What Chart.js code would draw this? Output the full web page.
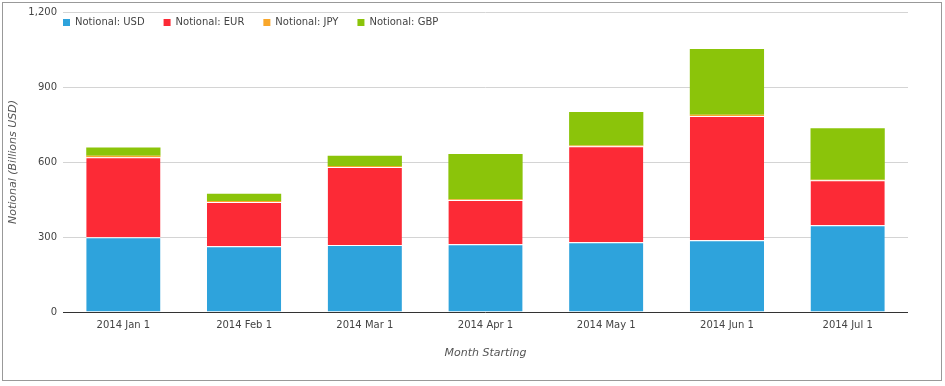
<!DOCTYPE html>
<html>
<head>
<meta charset="utf-8">
<script src="https://cdn.jsdelivr.net/npm/chart.js@4"></script>
<style>
html,body{margin:0;padding:0;background:#fff;}
#wrap{position:relative;width:945px;height:386px;}
</style>
</head>
<body>
<div id="wrap"><canvas id="c" width="945" height="386"></canvas></div>
<script>
const categories = ["2014 Jan 1","2014 Feb 1","2014 Mar 1","2014 Apr 1","2014 May 1","2014 Jun 1","2014 Jul 1"];
const seriesNames = ["Notional: USD","Notional: EUR","Notional: JPY","Notional: GBP"];
const usd = [299, 263, 268, 271, 279, 287, 347];
const eur = [320, 177, 312, 177, 384, 497, 180];
const jpy = [6, 4, 4, 3, 3, 5, 2];
const gbp = [33, 29, 41, 181, 134, 263, 206];
const yTicks = [0, 300, 600, 900, 1200];

const colors = ["#2ea3dc", "#fc2a36", "#f9a72b", "#8bc40a"];
const FONT = "'DejaVu Sans', Verdana, sans-serif";

const legendPlugin = {
  id: 'customLegend',
  afterDraw(chart) {
    const ctx = chart.ctx;
    ctx.save();
    ctx.font = "10px " + FONT;
    ctx.textBaseline = 'middle';
    let x = chart.chartArea.left;
    const yc = 22.5;
    chart.data.datasets.forEach(ds => {
      ctx.fillStyle = ds.backgroundColor;
      ctx.fillRect(x, yc - 3.5, 7, 7);
      ctx.fillStyle = '#444';
      ctx.fillText(ds.label, x + 12, yc);
      x += 12 + ctx.measureText(ds.label).width + 19;
    });
    ctx.restore();
  }
};
const framePlugin = {
  id: 'frame',
  afterDraw(chart) {
    const ctx = chart.ctx;
    ctx.save();
    ctx.strokeStyle = '#999';
    ctx.lineWidth = 1;
    ctx.strokeRect(2.5, 2.5, 939, 378);
    ctx.restore();
  }
};

const mk = (i, data) => ({
  label: seriesNames[i],
  data: data,
  backgroundColor: colors[i],
  borderColor: '#ffffff',
  borderWidth: (i === 0 || i === 1) ? {top: 1, left: 0, right: 0, bottom: 0} : 0,
  borderSkipped: false,
  categoryPercentage: 1.0,
  barPercentage: 0.615
});

new Chart(document.getElementById('c'), {
  type: 'bar',
  data: {
    labels: categories,
    datasets: [mk(0, usd), mk(1, eur), mk(2, jpy), mk(3, gbp)]
  },
  plugins: [legendPlugin, framePlugin],
  options: {
    responsive: false,
    animation: false,
    layout: {padding: {left: 0, right: 37, top: 12, bottom: 0}},
    plugins: {legend: {display: false}, tooltip: {enabled: false}},
    scales: {
      x: {
        stacked: true,
        grid: {display: false},
        border: {display: false},
        ticks: {color: '#444', font: {family: FONT, size: 10}, padding: -1, maxRotation: 0},
        title: {display: true, text: 'Month Starting', color: '#555',
                font: {family: FONT, size: 11, style: 'italic'}, padding: {top: 0, bottom: 26}},
        afterFit(s) { s.height = 386 - 312; }
      },
      y: {
        stacked: true,
        min: 0, max: 1200,
        afterBuildTicks(s) { s.ticks = yTicks.map(v => ({value: v})); },
        grid: {
          color: c => (c.tick && c.tick.value === 0) ? '#333' : '#d4d4d4',
          drawTicks: false, lineWidth: 1
        },
        border: {display: false},
        ticks: {color: '#444', font: {family: FONT, size: 10}, padding: 6,
                callback: v => v.toLocaleString('en-US')},
        title: {display: true, text: 'Notional (Billions USD)', color: '#555',
                font: {family: FONT, size: 11, style: 'italic'}, padding: {top: 7, bottom: 0}},
        afterFit(s) { s.width = 63; }
      }
    }
  }
});
</script>
</body>
</html>
